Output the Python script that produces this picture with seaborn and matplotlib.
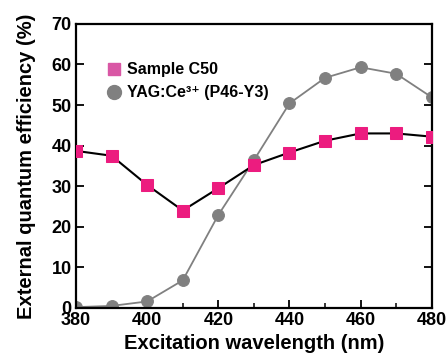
import matplotlib
matplotlib.use("Agg")
import matplotlib.pyplot as plt
import seaborn as sns
import pandas as pd
from matplotlib.lines import Line2D
from matplotlib.ticker import MultipleLocator

wavelength = [380, 390, 400, 410, 420, 430, 440, 450, 460, 470, 480]
c50 = [38.7, 37.5, 30.3, 24.0, 29.5, 35.2, 38.3, 41.2, 43.0, 43.0, 42.2]
yag = [0.2, 0.5, 1.6, 6.8, 22.9, 36.4, 50.4, 56.7, 59.3, 57.7, 51.9]
series_names = ["Sample C50", "YAG:Ce\u00b3\u207a (P46-Y3)"]

sns.set_theme(style="white")
plt.rcParams['font.family'] = ['Liberation Sans', 'DejaVu Sans']
plt.rcParams['font.weight'] = 'bold'

df = pd.DataFrame({"wl": wavelength, "c50": c50, "yag": yag})

fig = plt.figure(figsize=(4.47, 3.56), dpi=100)
ax = fig.add_axes([0.170, 0.135, 0.796, 0.798])

sns.lineplot(data=df, x="wl", y="yag", ax=ax, color="#808080", lw=1.3,
             marker="o", markersize=8.5, markeredgecolor="#808080",
             markerfacecolor="#808080", zorder=2)
sns.lineplot(data=df, x="wl", y="c50", ax=ax, color="black", lw=1.5,
             marker="s", markersize=8, markeredgecolor="#ec1c7f",
             markerfacecolor="#ec1c7f", zorder=3)

ax.set_xlim(380, 480)
ax.set_ylim(0, 70)
ax.xaxis.set_major_locator(MultipleLocator(20))
ax.xaxis.set_minor_locator(MultipleLocator(10))
ax.yaxis.set_major_locator(MultipleLocator(10))

for s in ax.spines.values():
    s.set_visible(True)
    s.set_color("black")
    s.set_linewidth(1.6)

ax.tick_params(axis="x", which="major", direction="in", length=6, width=1.3,
               bottom=True, top=False, labelsize=13, pad=3, colors="black")
ax.tick_params(axis="x", which="minor", direction="in", length=3.5, width=1.3,
               bottom=True, top=False)
ax.tick_params(axis="y", which="major", direction="in", length=6, width=1.3,
               left=True, right=True, labelsize=13, pad=3, colors="black")
for lbl in ax.get_xticklabels() + ax.get_yticklabels():
    lbl.set_fontweight("bold")

ax.set_xlabel("Excitation wavelength (nm)", fontsize=14.5, fontweight="bold",
              labelpad=3.5, color="black")
ax.set_ylabel("External quantum efficiency (%)", fontsize=14.5, fontweight="bold",
              labelpad=11, color="black")

handles = [
    Line2D([], [], marker="s", linestyle="none", color="#d957a5", markersize=9),
    Line2D([], [], marker="o", linestyle="none", color="#808080", markersize=10),
]
leg = ax.legend(handles, series_names, loc="upper left",
                bbox_to_anchor=(0.045, 0.915), frameon=False,
                prop={"weight": "bold", "size": 11.5}, handletextpad=0.3,
                labelspacing=0.5, handlelength=1.0)
for t in leg.get_texts():
    t.set_color("black")

fig.savefig("out.png", dpi=100)
